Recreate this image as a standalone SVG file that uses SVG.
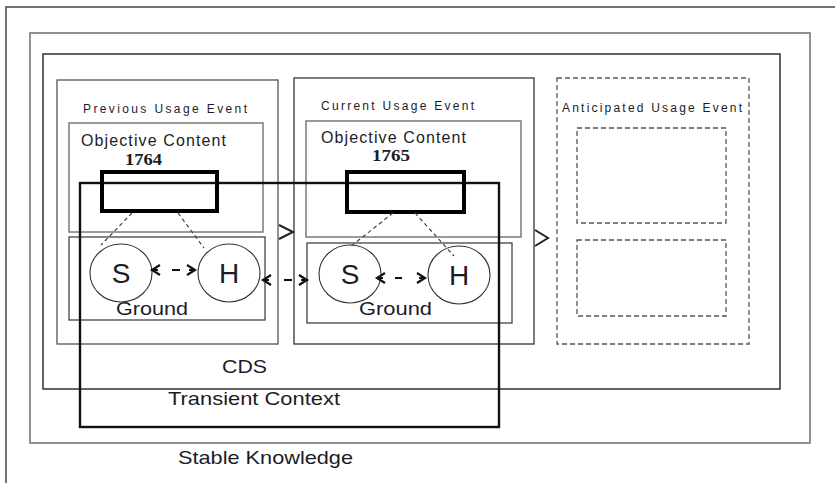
<svg xmlns="http://www.w3.org/2000/svg" width="835" height="483" viewBox="0 0 835 483">
<style>
text{font-family:"Liberation Sans",Arial,sans-serif;fill:#1c1c28}
.ev{font-size:12px}
.oc{font-size:16px}
.num{font-family:"Liberation Serif","Times New Roman",serif;font-weight:bold;font-size:16px}
.big{font-size:28px;text-anchor:middle}
.lbl{font-size:19px}
.box{fill:none}
.dl{fill:none;stroke:#444;stroke-width:1.2;stroke-dasharray:4 3}
.dbox{fill:none;stroke:#555;stroke-width:1.3;stroke-dasharray:5 3}
.circ{fill:#fff;stroke:#333;stroke-width:1.1}
.arr{fill:none;stroke:#111;stroke-width:2}
.gt{fill:none;stroke:#222;stroke-width:2}
</style>
<defs>
<marker id="chev" markerUnits="userSpaceOnUse" markerWidth="14" markerHeight="14" refX="8" refY="5" orient="auto-start-reverse" overflow="visible">
<path d="M0,0 L8,5 L0,10" fill="none" stroke="#111" stroke-width="2.2"/>
</marker>
</defs>
<rect width="835" height="483" fill="#fff"/>
<g id="outer-frame"><path d="M6,483 V7 H835" fill="none" stroke="#444" stroke-width="1.5"/></g>
<g id="stable-knowledge">
<rect class="box" x="30" y="33" width="780" height="410" stroke="#777" stroke-width="1.6"/>
<text class="lbl" x="178" y="464" textLength="175" lengthAdjust="spacingAndGlyphs">Stable Knowledge</text>
</g>
<g id="cds">
<rect class="box" x="43" y="54" width="737" height="335" stroke="#222" stroke-width="1.4"/>
<text class="lbl" x="222" y="373" textLength="45" lengthAdjust="spacingAndGlyphs">CDS</text>
</g>
<g id="previous-usage-event">
<rect class="box" x="57" y="80" width="221" height="264" stroke="#555" stroke-width="1.3"/>
<text class="ev" x="83" y="113" textLength="164" lengthAdjust="spacing">Previous Usage Event</text>
</g>
<g id="prev-objective-content">
<rect class="box" x="69" y="123" width="194" height="109" stroke="#666" stroke-width="1.3"/>
<text class="oc" x="81" y="146" textLength="145" lengthAdjust="spacing">Objective Content</text>
<text class="num" x="125" y="165" textLength="37" lengthAdjust="spacingAndGlyphs">1764</text>
</g>
<g id="prev-ground">
<rect class="box" x="69" y="237" width="196" height="83" stroke="#444" stroke-width="1.3"/>
<text class="lbl" x="116" y="315" textLength="72" lengthAdjust="spacingAndGlyphs">Ground</text>
</g>
<g id="current-usage-event">
<rect class="box" x="294" y="78" width="240" height="266" stroke="#333" stroke-width="1.3"/>
<text class="ev" x="321" y="110" textLength="153" lengthAdjust="spacing">Current Usage Event</text>
</g>
<g id="cur-objective-content">
<rect class="box" x="306" y="121" width="215" height="116" stroke="#666" stroke-width="1.3"/>
<text class="oc" x="321" y="143" textLength="145" lengthAdjust="spacing">Objective Content</text>
<text class="num" x="372" y="161" textLength="38" lengthAdjust="spacingAndGlyphs">1765</text>
</g>
<g id="cur-ground">
<rect class="box" x="307" y="243" width="205" height="80" stroke="#444" stroke-width="1.3"/>
<text class="lbl" x="359" y="315" textLength="73" lengthAdjust="spacingAndGlyphs">Ground</text>
</g>
<g id="anticipated-usage-event">
<rect class="dbox" x="557" y="78" width="192" height="266"/>
<text class="ev" x="562" y="112" textLength="180" lengthAdjust="spacing">Anticipated Usage Event</text>
<rect class="dbox" x="577" y="128" width="149" height="95"/>
<rect class="dbox" x="577" y="240" width="149" height="76"/>
</g>
<g id="transient-context">
<rect class="box" x="80" y="183" width="419" height="244" stroke="#111" stroke-width="2.4"/>
<text class="lbl" x="168" y="405" textLength="172" lengthAdjust="spacingAndGlyphs">Transient Context</text>
</g>
<g id="prev-content-block"><rect class="box" x="102" y="172" width="115" height="39" stroke="#000" stroke-width="4"/></g>
<g id="cur-content-block"><rect class="box" x="347" y="172" width="117" height="40" stroke="#000" stroke-width="4"/></g>
<g id="prev-S"><ellipse class="circ" cx="121" cy="273" rx="31" ry="29"/><text class="big" x="121" y="283">S</text></g>
<g id="prev-H"><ellipse class="circ" cx="229" cy="273" rx="31" ry="29"/><text class="big" x="229" y="283">H</text></g>
<g id="cur-S"><ellipse class="circ" cx="350" cy="274" rx="31" ry="29"/><text class="big" x="350" y="284">S</text></g>
<g id="cur-H"><ellipse class="circ" cx="459" cy="275" rx="31" ry="29"/><text class="big" x="459" y="285">H</text></g>
<g id="connectors">
<line class="dl" x1="132" y1="213" x2="101" y2="245"/>
<line class="dl" x1="178" y1="213" x2="204" y2="248"/>
<line class="dl" x1="393" y1="213" x2="350" y2="247"/>
<line class="dl" x1="415" y1="213" x2="454" y2="256"/>
<line class="arr" x1="152" y1="270" x2="195" y2="270" stroke-dasharray="6 14 8 9 6" marker-start="url(#chev)" marker-end="url(#chev)"/>
<line class="arr" x1="263" y1="280" x2="307" y2="280" stroke-dasharray="6 15 8 9 6" marker-start="url(#chev)" marker-end="url(#chev)"/>
<line class="arr" x1="377" y1="278" x2="425" y2="278" stroke-dasharray="6 12 7 17 6" marker-start="url(#chev)" marker-end="url(#chev)"/>
<polyline class="gt" points="279,225 293,232 279,239"/>
<polyline class="gt" points="535,230 548,238 535,246"/>
</g>
</svg>
